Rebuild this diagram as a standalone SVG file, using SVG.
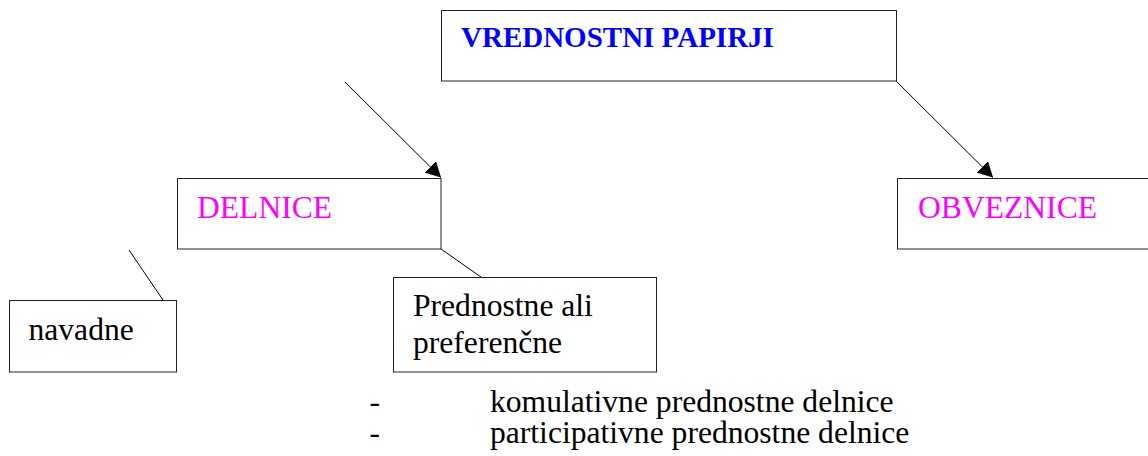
<svg xmlns="http://www.w3.org/2000/svg" width="1148" height="456" viewBox="0 0 1148 456">
<style>
.box{fill:#fff;stroke:#222;stroke-width:1}
.t{font-family:"Liberation Serif","Times New Roman",serif;font-size:31.6px;fill:#000}
.b{font-weight:bold;fill:#0000ff;font-size:29px}
.m{fill:#ff00ff}
.c line{stroke:#000;stroke-width:1}
</style>
<defs>
<marker id="ah" viewBox="0 0 15 16" refX="15" refY="8" markerWidth="15" markerHeight="16" orient="auto" markerUnits="userSpaceOnUse">
<path d="M0,0 L15,8 L0,16 z" fill="#000"/>
</marker>
</defs>
<rect width="1148" height="456" fill="#fff"/>
<g id="connectors" class="c">
<line x1="345" y1="82" x2="441" y2="177.5" marker-end="url(#ah)"/>
<line x1="896" y1="81" x2="993" y2="177.5" marker-end="url(#ah)"/>
<line x1="129" y1="250" x2="163" y2="300"/>
<line x1="441" y1="249" x2="481" y2="277"/>
</g>
<g id="vrednostni-papirji">
<rect class="box" x="441.5" y="10.5" width="455" height="70.5"/>
<text class="t b" x="461" y="47">VREDNOSTNI PAPIRJI</text>
</g>
<g id="delnice">
<rect class="box" x="177.5" y="178.5" width="263.5" height="70.5"/>
<text class="t m" x="197" y="218">DELNICE</text>
</g>
<g id="obveznice">
<rect class="box" x="897.5" y="178.5" width="262" height="70.5"/>
<text class="t m" x="918" y="218">OBVEZNICE</text>
</g>
<g id="navadne">
<rect class="box" x="9.5" y="300.5" width="167" height="71.5"/>
<text class="t" x="28.5" y="340">navadne</text>
</g>
<g id="prednostne">
<rect class="box" x="393.5" y="277.5" width="263" height="94.5"/>
<text class="t" x="413" y="316">Prednostne ali</text>
<text class="t" x="413" y="353">preferenčne</text>
</g>
<g id="list">
<text class="t" x="369.5" y="412">-</text>
<text class="t" x="490" y="412">komulativne prednostne delnice</text>
<text class="t" x="369.5" y="443">-</text>
<text class="t" x="490" y="443">participativne prednostne delnice</text>
</g>
</svg>
